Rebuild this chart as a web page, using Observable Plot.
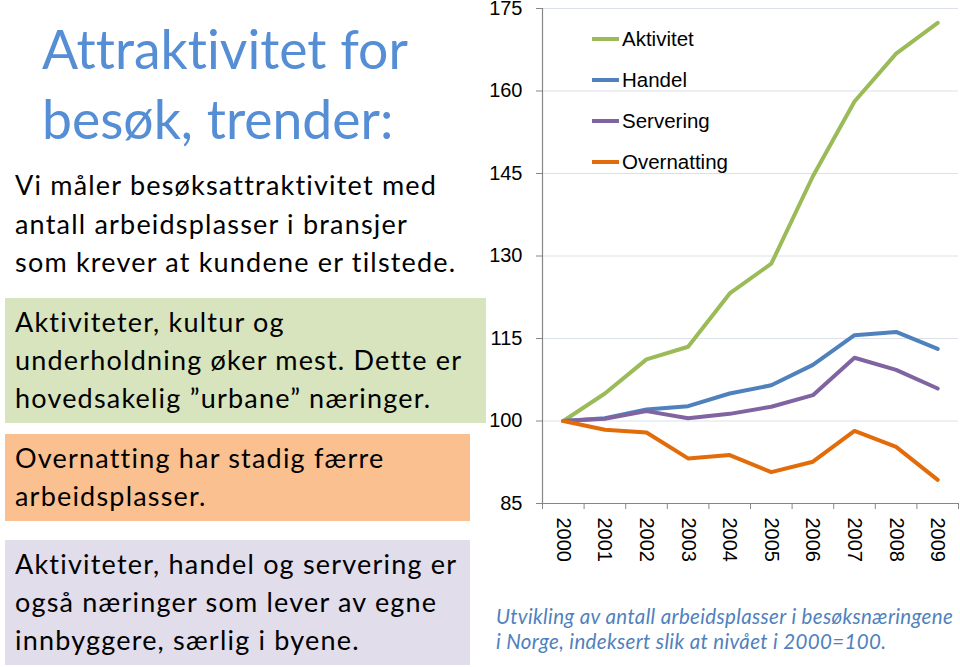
<!DOCTYPE html>
<html>
<head>
<meta charset="utf-8">
<script src="https://cdn.jsdelivr.net/npm/d3@7"></script>
<script src="https://cdn.jsdelivr.net/npm/@observablehq/plot@0.6"></script>
<style>
  html, body { margin: 0; padding: 0; background: #fff; }
  #page { position: relative; width: 960px; height: 667px; overflow: hidden; font-family: Lato, "Open Sans", sans-serif; font-variant-ligatures: none; }
  .title { position: absolute; left: 42px; top: 13px; font-size: 53.5px; line-height: 70px; color: #558ED5; white-space: nowrap; }
  .intro { position: absolute; left: 15px; top: 166px; font-size: 27px; letter-spacing: 1.2px; line-height: 38.5px; color: #000; white-space: nowrap; }
  .box { position: absolute; left: 5px; font-size: 27px; letter-spacing: 1.2px; line-height: 38px; color: #000; padding-left: 10px; box-sizing: border-box; white-space: nowrap; }
  .green { top: 298px; width: 481px; height: 125px; background: #D7E4BD; padding-top: 5px; }
  .orange { top: 434px; width: 465px; height: 87px; background: #FAC090; padding-top: 5px; }
  .purple { top: 540px; width: 465px; height: 125px; background: #E1DDEB; padding-top: 5px; }
  #chart { position: absolute; left: 480px; top: 0; }
  #legend { position: absolute; left: 592px; top: 18px; font-family: "Liberation Sans", Arial, sans-serif; font-size: 20.5px; color: #000; }
  .li { height: 41px; display: flex; align-items: center; }
  .sw { width: 27px; height: 4px; margin-right: 3px; }
  .caption { position: absolute; left: 496px; top: 604px; font-size: 20.5px; letter-spacing: 0.35px; line-height: 25px; font-style: italic; color: #4F81BD; white-space: nowrap; }
</style>
</head>
<body>
<div id="page">
  <div class="title">Attraktivitet for<br>besøk, trender:</div>
  <div class="intro">Vi måler besøksattraktivitet med<br>antall arbeidsplasser i bransjer<br>som krever at kundene er tilstede.</div>
  <div class="box green">Aktiviteter, kultur og<br>underholdning øker mest. Dette er<br>hovedsakelig ”urbane” næringer.</div>
  <div class="box orange">Overnatting har stadig færre<br>arbeidsplasser.</div>
  <div class="box purple">Aktiviteter, handel og servering er<br>også næringer som lever av egne<br>innbyggere, særlig i byene.</div>
  <div id="chart"></div>
  <div id="legend"></div>
  <div class="caption">Utvikling av antall arbeidsplasser i besøksnæringene<br>i Norge, indeksert slik at nivået i 2000=100.</div>
</div>
<script>
const years = [2000, 2001, 2002, 2003, 2004, 2005, 2006, 2007, 2008, 2009];
const seriesNames = ["Aktivitet", "Handel", "Servering", "Overnatting"];
const seriesColors = ["#9BBB59", "#4F81BD", "#8064A2", "#E36C0A"];
const aktivitet   = [100, 105.0, 111.2, 113.5, 123.2, 128.6, 144.5, 158.1, 166.8, 172.4];
const handel      = [100, 100.5, 102.1, 102.7, 105.0, 106.5, 110.2, 115.6, 116.2, 113.1];
const servering   = [100, 100.4, 101.8, 100.5, 101.3, 102.6, 104.7, 111.5, 109.3, 105.9];
const overnatting = [100, 98.4, 97.9, 93.2, 93.8, 90.7, 92.6, 98.2, 95.3, 89.3];
const yTicks = [85, 100, 115, 130, 145, 160, 175];

const seriesValues = [aktivitet, handel, servering, overnatting];
const data = [];
seriesNames.forEach((name, i) => {
  years.forEach((yr, j) => data.push({series: name, year: yr, value: seriesValues[i][j]}));
});
const xMin = years[0] - 0.5, xMax = years[years.length - 1] + 0.5;
const edges = [...years.map(y => y - 0.5), xMax];

const chart = Plot.plot({
  width: 480,
  height: 575,
  marginLeft: 62,
  marginRight: 2,
  marginTop: 8,
  marginBottom: 72,
  style: {fontFamily: "'Liberation Sans', Arial, sans-serif", fontSize: "20px", color: "#000", background: "transparent", overflow: "visible"},
  x: {type: "linear", domain: [xMin, xMax]},
  y: {domain: [yTicks[0], yTicks[yTicks.length - 1]]},
  color: {domain: seriesNames, range: seriesColors},
  marks: [
    Plot.ruleY(yTicks.slice(1), {stroke: "#DCE1E8", strokeWidth: 1}),
    Plot.axisY({ticks: yTicks, tickSize: 6, tickPadding: 14, fontSize: 20, stroke: "#868686", label: null}),
    Plot.axisX({ticks: years, tickSize: 0, tickPadding: 14, tickRotate: 90, fontSize: 20, label: null, tickFormat: d => String(d)}),
    Plot.axisX({ticks: edges, tickSize: 6, tickFormat: () => "", label: null, stroke: "#868686"}),
    Plot.ruleX([xMin], {stroke: "#868686", strokeWidth: 1.2}),
    Plot.ruleY([yTicks[0]], {stroke: "#868686", strokeWidth: 1.2}),
    Plot.line(data, {x: "year", y: "value", z: "series", stroke: "series", strokeWidth: 4, strokeLinejoin: "round", strokeLinecap: "round"})
  ]
});
document.getElementById("chart").appendChild(chart);

const legend = document.getElementById("legend");
seriesNames.forEach((name, i) => {
  const row = document.createElement("div");
  row.className = "li";
  const sw = document.createElement("span");
  sw.className = "sw";
  sw.style.background = seriesColors[i];
  const t = document.createElement("span");
  t.textContent = name;
  row.appendChild(sw);
  row.appendChild(t);
  legend.appendChild(row);
});
</script>
</body>
</html>
